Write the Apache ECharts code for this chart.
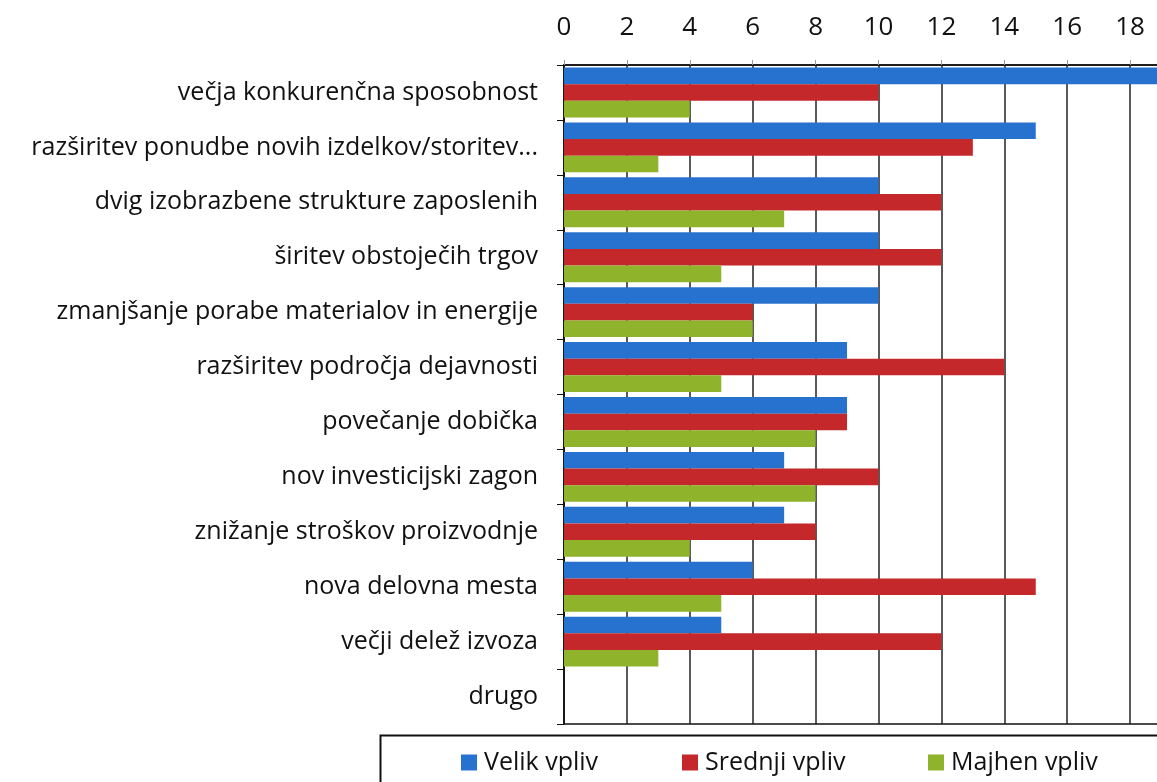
<!DOCTYPE html>
<html>
<head>
<meta charset="utf-8">
<script src="https://cdn.jsdelivr.net/npm/echarts@6/dist/echarts.min.js"></script>
<style>
  html, body { margin: 0; padding: 0; background: #fff; }
  #main { width: 1157px; height: 782px; }
</style>
</head>
<body>
<div id="main"></div>
<script>
// kategorije (od zgoraj navzdol)
var categories = [
  'večja konkurenčna sposobnost',
  'razširitev ponudbe novih izdelkov/storitev...',
  'dvig izobrazbene strukture zaposlenih',
  'širitev obstoječih trgov',
  'zmanjšanje porabe materialov in energije',
  'razširitev področja dejavnosti',
  'povečanje dobička',
  'nov investicijski zagon',
  'znižanje stroškov proizvodnje',
  'nova delovna mesta',
  'večji delež izvoza',
  'drugo'
];
var seriesNames = ['Velik vpliv', 'Srednji vpliv', 'Majhen vpliv'];
var velikVpliv   = [19, 15, 10, 10, 10, 9, 9, 7, 7, 6, 5, 0];
var srednjiVpliv = [10, 13, 12, 12, 6, 14, 9, 10, 8, 15, 12, 0];
var majhenVpliv  = [4, 3, 7, 5, 6, 5, 8, 8, 4, 5, 3, 0];
var xTicks = { min: 0, max: 20, interval: 2 };

var colors = ['#2872cf', '#c4282a', '#8fb32b'];
var font = 'Open Sans';

var myChart = echarts.init(document.getElementById('main'));
var values = [velikVpliv, srednjiVpliv, majhenVpliv];
var legendLeft = [456, 677, 923];

var option = {
  animation: false,
  color: colors,
  grid: {
    left: 564, right: -36, top: 65, bottom: 58,
    containLabel: false, outerBoundsMode: 'none',
    show: true, borderColor: '#111', borderWidth: 1.5
  },
  graphic: [{
    type: 'rect',
    left: 378, top: 733,
    shape: { width: 900, height: 80 },
    style: { fill: 'none', stroke: '#111', lineWidth: 2 }
  }],
  legend: seriesNames.map(function (n, i) {
    return {
      data: [n], left: legendLeft[i], top: 745,
      itemWidth: 16, itemHeight: 16, itemGap: 0,
      icon: 'rect',
      textStyle: { fontFamily: font, fontSize: 25, color: '#111', padding: [0, 0, 0, 2] }
    };
  }),
  xAxis: {
    type: 'value', position: 'top',
    min: xTicks.min, max: xTicks.max, interval: xTicks.interval,
    axisLine: { show: true, lineStyle: { color: '#111', width: 1.5 } },
    axisTick: { show: true, length: 5, lineStyle: { color: '#999' } },
    axisLabel: { fontFamily: font, fontSize: 26, color: '#111', margin: 24 },
    splitLine: { show: true, lineStyle: { color: '#222', width: 1.5 } }
  },
  yAxis: {
    type: 'category', inverse: true, data: categories,
    axisLine: { show: true, lineStyle: { color: '#111', width: 1.5 } },
    axisTick: { show: true, length: 7, lineStyle: { color: '#111' } },
    axisLabel: { fontFamily: font, fontSize: 25, color: '#111', margin: 26 }
  },
  series: seriesNames.map(function (n, i) {
    return {
      name: n, type: 'bar', data: values[i],
      barGap: '0%', barCategoryGap: '9%',
      itemStyle: { color: colors[i] }
    };
  })
};
myChart.setOption(option);
</script>
</body>
</html>
